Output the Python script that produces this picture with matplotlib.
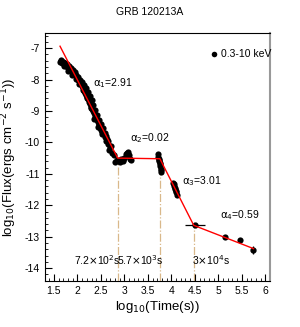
import matplotlib
matplotlib.use("Agg")
import matplotlib.pyplot as plt
from matplotlib.ticker import MultipleLocator
import numpy as np

plt.rcParams['font.family'] = ['Liberation Sans Narrow', 'Liberation Sans', 'DejaVu Sans']
plt.rcParams['mathtext.fontset'] = 'custom'
plt.rcParams['mathtext.rm'] = 'Liberation Sans Narrow'
plt.rcParams['mathtext.it'] = 'Liberation Sans Narrow'

# data (log10 time, log10 flux)
t_data = [1.63, 1.65, 1.67, 1.69, 1.71, 1.73, 1.75, 1.77, 1.79, 1.81, 1.83, 1.85, 1.87, 1.89,
          1.91, 1.93, 1.95, 1.97, 1.99, 2.01, 2.03, 2.05, 2.07, 2.09, 2.11, 2.13, 2.15, 2.17,
          2.19, 2.21, 2.23, 2.25, 2.27, 2.29, 2.31, 2.33, 2.35, 2.37, 2.39, 2.41, 2.43, 2.45,
          2.47, 2.49, 2.51, 2.53, 2.56, 2.59, 2.62, 2.65, 2.69, 2.74, 2.80, 2.84, 2.88, 2.92,
          2.96, 3.00, 3.03, 3.06, 3.09, 3.12, 3.15,
          3.71, 3.72, 3.73, 3.74, 3.75, 3.76, 3.77, 3.78,
          4.03, 4.05, 4.07, 4.09, 4.11,
          5.15, 5.47,
          # second layer (scatter around the decay)
          1.66, 1.70, 1.74, 1.78, 1.82, 1.86, 1.90, 1.94, 1.98, 2.02, 2.06, 2.10, 2.14, 2.18,
          2.22, 2.26, 2.30, 2.34, 2.38, 2.42, 2.46, 2.50, 2.54, 2.58, 2.61, 2.66, 2.71, 2.77,
          1.72, 1.80, 1.88, 1.96, 2.04, 2.12, 2.20, 2.28, 2.36, 2.44, 2.52, 2.60, 2.68,
          2.90, 2.98, 3.05, 3.08, 3.74, 3.76, 3.79, 4.06, 4.08, 4.10]
f_data = [-7.44, -7.42, -7.48, -7.45, -7.52, -7.50, -7.56, -7.58, -7.62, -7.60, -7.66, -7.70, -7.72, -7.76,
          -7.80, -7.83, -7.86, -7.90, -7.95, -8.00, -8.04, -8.10, -8.15, -8.20, -8.26, -8.32, -8.38, -8.44,
          -8.50, -8.57, -8.63, -8.70, -8.78, -8.86, -8.93, -9.00, -9.08, -9.16, -9.23, -9.28, -9.35, -9.42,
          -9.48, -9.55, -9.60, -9.66, -9.74, -9.82, -9.90, -10.05, -10.15, -10.35, -10.62, -10.55, -10.58, -10.52,
          -10.55, -10.50, -10.38, -10.33, -10.40, -10.52, -10.55,
          -10.38, -10.45, -10.52, -10.60, -10.68, -10.76, -10.85, -10.95,
          -11.28, -11.38, -11.48, -11.58, -11.66,
          -13.02, -13.10,
          -7.38, -7.44, -7.48, -7.52, -7.56, -7.62, -7.70, -7.76, -7.84, -7.92, -8.00, -8.08, -8.18, -8.28,
          -8.40, -8.52, -8.66, -8.82, -8.98, -9.12, -9.28, -9.42, -9.55, -9.70, -9.80, -9.95, -10.10, -10.40,
          -7.58, -7.72, -7.84, -7.98, -8.14, -8.34, -8.60, -8.90, -9.26, -9.50, -9.72, -9.95, -10.25,
          -10.62, -10.58, -10.42, -10.30, -10.55, -10.66, -10.88, -11.32, -11.45, -11.55]
# points with error bars
te_data = [4.50, 5.74]
fe_data = [-12.64, -13.43]
te_err = [0.22, 0.0]
fe_err = [0.0, 0.12]

# broken power law fit: break points
t_fit = [1.63, 2.857, 3.756, 4.477, 5.75]
f_fit = [-6.94, -10.50, -10.52, -12.64, -13.38]
breaks = [2.857, 3.756, 4.477]
break_labels = [r'7.2$\times$10$^{2}$s', r'5.7$\times$10$^{3}$s', r'3$\times$10$^{4}$s']
alpha_labels = [r'$\alpha_{1}$=2.91', r'$\alpha_{2}$=0.02', r'$\alpha_{3}$=3.01', r'$\alpha_{4}$=0.59']

fig = plt.figure(figsize=(3.0, 3.27), dpi=100)
ax = fig.add_axes([0.15, 0.1407, 0.75, 0.7583])

ax.scatter(t_data, f_data, s=20, color='black', zorder=3, linewidths=0)
ax.errorbar(te_data, fe_data, xerr=te_err, yerr=fe_err, fmt='o', ms=3.5, color='black',
            elinewidth=0.9, capsize=0, zorder=3)
ax.plot(t_fit, f_fit, color='red', lw=1.0, zorder=4)

for b in breaks:
    yb = np.interp(b, t_fit, f_fit)
    ax.plot([b, b], [-14.41, yb], color='#d9b88a', lw=0.9, ls='-.', zorder=1)

lab_pos = [(2.42, -13.75), (3.33, -13.75), (4.85, -13.75)]
for (x, y), s in zip(lab_pos, break_labels):
    ax.text(x, y, s, fontsize=7.5, ha='center', va='center')

alpha_pos = [(2.33, -8.1), (3.12, -9.87), (4.23, -11.23), (5.04, -12.3)]
for (x, y), s in zip(alpha_pos, alpha_labels):
    ax.text(x, y, s, fontsize=7.5, ha='left', va='center')

ax.scatter([4.90], [-7.19], s=16, color='black', linewidths=0)
ax.text(5.06, -7.19, '0.3-10 keV', fontsize=7.5, ha='left', va='center')

ax.set_xlim(1.31, 6.1)
ax.set_ylim(-14.41, -6.52)
ax.xaxis.set_minor_locator(MultipleLocator(0.1))
ax.yaxis.set_minor_locator(MultipleLocator(0.2))
ax.tick_params(which='both', direction='in', labelsize=7.5, top=False, right=False)
ax.tick_params(which='major', length=5, width=0.8)
ax.tick_params(which='minor', length=2.5, width=0.6)
ax.set_xticks([1.5, 2, 2.5, 3, 3.5, 4, 4.5, 5, 5.5, 6])
ax.set_xticklabels(['1.5', '2', '2.5', '3', '3.5', '4', '4.5', '5', '5.5', '6'])
ax.set_yticks([-7, -8, -9, -10, -11, -12, -13, -14])
ax.set_yticklabels(['-7', '-8', '-9', '-10', '-11', '-12', '-13', '-14'])
for sp in ['left', 'bottom', 'top']:
    ax.spines[sp].set_linewidth(0.8)
ax.spines['right'].set_color('#999999')
ax.spines['right'].set_linewidth(1.5)

ax.set_xlabel(r'log$_{10}$(Time(s))', fontsize=9.5, labelpad=2)
ax.set_ylabel(r'log$_{10}$(Flux(ergs cm$^{-2}$ s$^{-1}$))', fontsize=9.5, labelpad=4,
              family=['Liberation Sans', 'DejaVu Sans'])
fig.text(0.5, 0.963, 'GRB 120213A', fontsize=7.5, ha='center', va='center')

fig.savefig('out.png', dpi=100)
